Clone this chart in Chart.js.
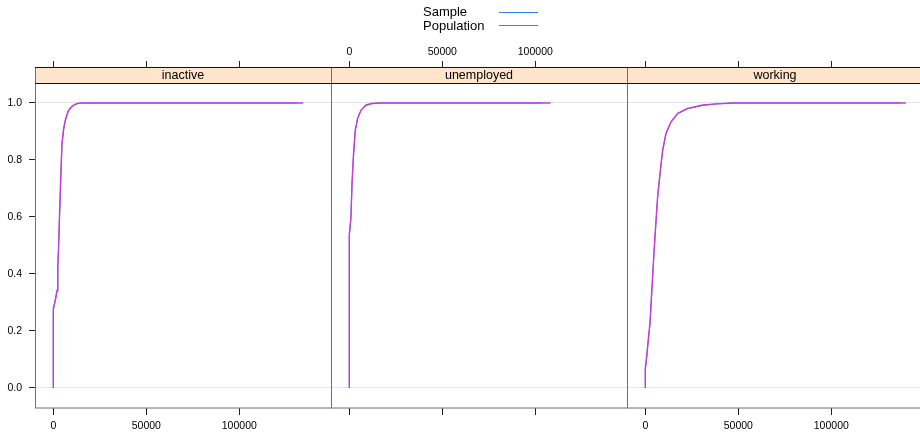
<!DOCTYPE html>
<html lang="en">
<head>
    <meta charset="UTF-8">
    <title>ECDF by status</title>
    <script src="https://cdn.jsdelivr.net/npm/chart.js"></script>
    <style>
        body { margin: 0; width: 920px; height: 435px; overflow: hidden; background: #fff; position: relative; }
        canvas { position: absolute; top: 0; left: 0; }
    </style>
</head>
<body>
    <canvas id="panel0" width="920" height="435"></canvas>
    <canvas id="panel1" width="920" height="435"></canvas>
    <canvas id="panel2" width="930" height="435"></canvas>

    <script>
        // panel names, series and tick values
        const panels = ['inactive', 'unemployed', 'working'];
        const seriesNames = ['Sample', 'Population'];
        const seriesColors = ['#2f80e8', '#c83cd2'];
        const xTicks = [0, 50000, 100000];
        const yTicks = [0, 0.2, 0.4, 0.6, 0.8, 1.0];

        // ECDF (value -> cumulative share)
        const inactivePopX = [0, 0, 800, 1500, 2000, 2400, 2850, 3300, 3760, 4200, 4680, 5500, 6450, 7300, 8230, 9500, 10900, 12500, 14500, 134400];
        const inactivePopY = [0, 0.28, 0.30, 0.32, 0.34, 0.42, 0.50, 0.60, 0.69, 0.78, 0.86, 0.91, 0.94, 0.96, 0.975, 0.985, 0.993, 0.998, 1.0, 1.0];
        const inactiveSampleX = [0, 0, 700, 1400, 2000, 2450, 2900, 3350, 3800, 4250, 4700, 5600, 6500, 7400, 8300, 9700, 11200, 13000, 15000, 131000];
        const inactiveSampleY = [0, 0.27, 0.295, 0.325, 0.345, 0.425, 0.505, 0.595, 0.685, 0.775, 0.855, 0.905, 0.938, 0.958, 0.973, 0.984, 0.992, 0.997, 1.0, 1.0];

        const unemployedPopX = [0, 0, 900, 1450, 2150, 3200, 4460, 6290, 8980, 12000, 16130, 108200];
        const unemployedPopY = [0, 0.54, 0.60, 0.72, 0.81, 0.905, 0.946, 0.975, 0.993, 0.998, 1.0, 1.0];
        const unemployedSampleX = [0, 0, 850, 1500, 2200, 3150, 4400, 6400, 9200, 12500, 15500, 104000];
        const unemployedSampleY = [0, 0.53, 0.595, 0.715, 0.805, 0.90, 0.944, 0.976, 0.992, 0.998, 1.0, 1.0];

        const workingPopX = [0, 0, 700, 1600, 2500, 3200, 3900, 4600, 5400, 6600, 7900, 9300, 11100, 13800, 17400, 22700, 30800, 38000, 45200, 48000, 140100];
        const workingPopY = [0, 0.069, 0.11, 0.17, 0.228, 0.31, 0.39, 0.47, 0.554, 0.671, 0.753, 0.835, 0.894, 0.934, 0.964, 0.981, 0.993, 0.997, 0.999, 1.0, 1.0];
        const workingSampleX = [0, 0, 750, 1650, 2550, 3250, 3950, 4650, 5450, 6650, 7950, 9400, 11200, 13900, 17600, 23000, 31500, 39000, 46000, 137000];
        const workingSampleY = [0, 0.065, 0.105, 0.168, 0.225, 0.305, 0.386, 0.468, 0.55, 0.668, 0.751, 0.833, 0.892, 0.933, 0.963, 0.98, 0.992, 0.997, 1.0, 1.0];

        const panelData = [
            { sx: inactiveSampleX, sy: inactiveSampleY, px: inactivePopX, py: inactivePopY },
            { sx: unemployedSampleX, sy: unemployedSampleY, px: unemployedPopX, py: unemployedPopY },
            { sx: workingSampleX, sy: workingSampleY, px: workingPopX, py: workingPopY }
        ];

        const FONT = 'Liberation Sans, Arial, sans-serif';
        const STRIP_H = 16;

        // strip + panel box
        const panelFrame = {
            id: 'panelFrame',
            afterDatasetsDraw(chart, args, opts) {
                const { ctx, chartArea: a } = chart;
                ctx.save();
                ctx.fillStyle = '#ffe5cc';
                ctx.fillRect(a.left, a.top, a.right - a.left, STRIP_H);
                ctx.lineWidth = 1;
                ctx.strokeStyle = '#707070';
                ctx.strokeRect(a.left + 0.5, a.top + 0.5, a.right - a.left, a.bottom - a.top - 0.5);
                ctx.strokeStyle = '#111';
                ctx.beginPath();
                ctx.moveTo(a.left, a.top + 0.5);
                ctx.lineTo(a.right + 1, a.top + 0.5);
                ctx.moveTo(a.left, a.top + STRIP_H + 0.5);
                ctx.lineTo(a.right + 1, a.top + STRIP_H + 0.5);
                ctx.stroke();
                ctx.fillStyle = '#000';
                ctx.font = '12.5px ' + FONT;
                ctx.textAlign = 'center';
                ctx.textBaseline = 'middle';
                ctx.fillText(opts.label, (a.left + a.right) / 2, a.top + STRIP_H / 2 + 1);
                ctx.restore();
            }
        };

        // key at the top of the page
        const topKey = {
            id: 'topKey',
            afterDraw(chart, args, opts) {
                if (!opts.show) return;
                const ctx = chart.ctx;
                ctx.save();
                ctx.font = '13px ' + FONT;
                ctx.fillStyle = '#000';
                ctx.textAlign = 'left';
                ctx.textBaseline = 'middle';
                seriesNames.forEach((name, i) => {
                    const y = 12 + i * 14;
                    ctx.fillText(name, 423, y);
                    ctx.strokeStyle = seriesColors[i];
                    ctx.lineWidth = 1;
                    ctx.beginPath();
                    ctx.moveTo(499, y + 0.5 - i);
                    ctx.lineTo(538, y + 0.5 - i);
                    ctx.stroke();
                });
                ctx.restore();
            }
        };

        function xAxis(position, showLabels, tickLen) {
            return {
                type: 'linear',
                position: position,
                min: -9840,
                max: 149300,
                afterBuildTicks: s => { s.ticks = xTicks.map(v => ({ value: v })); },
                afterFit: s => { s.height = position === 'top' ? 67 : 27; },
                ticks: {
                    display: showLabels,
                    color: '#000',
                    font: { family: FONT, size: 10.5 },
                    padding: position === 'top' ? 3 : 5,
                    maxRotation: 0,
                    callback: v => String(v)
                },
                grid: { drawOnChartArea: false, tickLength: tickLen, tickColor: '#222' },
                border: { display: false }
            };
        }

        function makePanel(i) {
            const d = panelData[i];
            const left = [0, 331, 627][i];
            const canvasW = i === 2 ? 930 : 920;
            const right = [331, 627, 923][i];

            return new Chart(document.getElementById('panel' + i), {
                type: 'line',
                data: {
                    datasets: [{
                        label: seriesNames[1],
                        data: d.px.map((x, k) => ({ x: x, y: d.py[k] })),
                        borderColor: seriesColors[1],
                        borderWidth: 1.4,
                        pointRadius: 0,
                        tension: 0,
                        order: 0
                    }, {
                        label: seriesNames[0],
                        data: d.sx.map((x, k) => ({ x: x, y: d.sy[k] })),
                        borderColor: seriesColors[0],
                        borderWidth: 1,
                        pointRadius: 0,
                        tension: 0,
                        order: 1
                    }]
                },
                options: {
                    responsive: false,
                    animation: false,
                    devicePixelRatio: 1,
                    layout: { padding: { left: left, right: canvasW - right, top: 0, bottom: 0 } },
                    plugins: {
                        legend: { display: false },
                        tooltip: { enabled: false },
                        panelFrame: { label: panels[i] },
                        topKey: { show: i === 0 }
                    },
                    scales: {
                        x: xAxis('bottom', i !== 1, 7),
                        x2: xAxis('top', i === 1, 6),
                        y: {
                            position: 'left',
                            min: -0.0702,
                            max: 1.1263,
                            afterBuildTicks: s => { s.ticks = yTicks.map(v => ({ value: v })); },
                            afterFit: s => { s.width = i === 0 ? 35 : 0; },
                            ticks: {
                                display: i === 0,
                                color: '#000',
                                font: { family: FONT, size: 10.5 },
                                padding: 7,
                                callback: v => Number(v).toFixed(1)
                            },
                            grid: {
                                drawTicks: i === 0,
                                tickLength: 6,
                                tickColor: '#222',
                                color: c => (c.tick && (c.tick.value === 0 || c.tick.value === 1)) ? '#e6e6e6' : 'rgba(0,0,0,0)'
                            },
                            border: { display: false }
                        }
                    }
                },
                plugins: [panelFrame, topKey]
            });
        }

        panels.forEach((p, i) => makePanel(i));
    </script>
</body>
</html>
